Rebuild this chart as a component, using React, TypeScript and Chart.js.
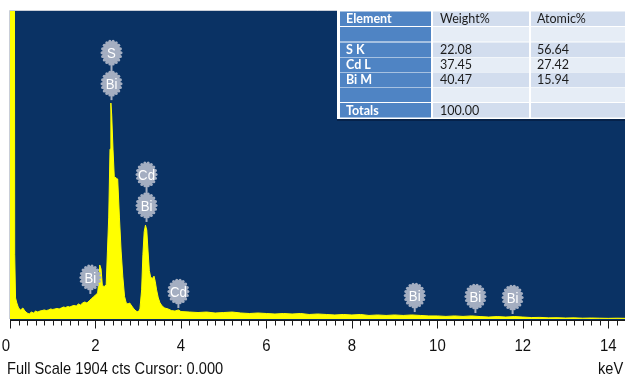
import { useEffect, useRef } from "react";
import { Chart, registerables } from "chart.js";

Chart.register(...registerables);

// EDS spectrum: energy (keV) and counts per channel
const energies = [
  0.0, 0.09, 0.11, 0.13, 0.16, 0.2, 0.25, 0.3, 0.35, 0.4, 0.45, 0.5, 0.55, 0.6, 0.65, 0.7, 0.75, 0.8,
  0.85, 0.9, 0.95, 1.0, 1.05, 1.1, 1.15, 1.2, 1.25, 1.3, 1.35, 1.4, 1.45, 1.5, 1.55, 1.6, 1.65, 1.7,
  1.75, 1.8, 1.85, 1.9, 1.95, 2.0, 2.05, 2.08, 2.1, 2.13, 2.16, 2.2, 2.25, 2.28, 2.31, 2.34, 2.36,
  2.38, 2.41, 2.44, 2.49, 2.52, 2.56, 2.6, 2.64, 2.68, 2.72, 2.76, 2.8, 2.85, 2.9, 2.95, 3.0, 3.04,
  3.08, 3.11, 3.14, 3.17, 3.2, 3.23, 3.26, 3.29, 3.33, 3.37, 3.4, 3.43, 3.47, 3.51, 3.56, 3.62, 3.7,
  3.78, 3.86, 3.94, 4.0, 4.2, 4.4, 4.6, 4.8, 5.0, 5.2, 5.4, 5.6, 5.8, 6.0, 6.2, 6.4, 6.6, 6.8, 7.0,
  7.2, 7.4, 7.6, 7.8, 8.0, 8.2, 8.4, 8.6, 8.8, 9.0, 9.2, 9.4, 9.6, 9.8, 10.0, 10.2, 10.4, 10.6, 10.8,
  11.0, 11.2, 11.4, 11.6, 11.8, 12.0, 12.2, 12.4, 12.6, 12.8, 13.0, 13.2, 13.4, 13.6, 13.8, 14.0,
  14.2, 14.4,
];
const counts = [
  6000, 6000, 400, 130, 99, 68, 56, 68, 49, 37, 31, 43, 37, 49, 43, 49, 52, 56,
  52, 56, 62, 59, 62, 65, 62, 68, 74, 71, 77, 74, 80, 84, 80, 93, 87, 99,
  105, 99, 111, 124, 136, 148, 160, 235, 334, 310, 210, 200, 210, 420, 630, 1050, 1335,
  1260, 1050, 880, 870, 865, 630, 420, 260, 140, 99, 93, 99, 80, 62, 49, 43, 62,
  180, 400, 540, 580, 550, 420, 300, 260, 250, 265, 230, 180, 130, 100, 80, 68, 62,
  52, 49, 56, 46, 43, 40, 43, 37, 40, 43, 37, 34, 37, 34, 31, 34, 31, 34, 28,
  31, 28, 25, 28, 25, 28, 22, 25, 22, 25, 22, 25, 22, 19, 19, 16, 19, 16, 19,
  15, 12, 15, 12, 15, 12, 9, 10, 7, 8, 6, 7, 5, 6, 5, 4,
  5, 4,
];

const fullScaleCounts = 1904;
const energyMax = 14.39;
const majorTicks = [0, 2, 4, 6, 8, 10, 12, 14];
const minorStep = 0.2;
const footerText = "Full Scale 1904 cts Cursor: 0.000";
const unitText = "keV";

// Peak identification markers: stacked labels (bottom first), energy and foot height in counts
const markerLabels = [["Bi", "S"], ["Bi", "Cd"], ["Bi"], ["Cd"], ["Bi"], ["Bi"], ["Bi"]];
const markerEnergies = [2.375, 3.195, 1.88, 3.94, 9.47, 10.89, 11.76];
const markerFeet = [1353, 600, 155, 68, 43, 37, 31];

// Quantification table
const tableHeader = ["Element", "Weight%", "Atomic%"];
const tableElements = ["", "S K", "Cd L", "Bi M", "", "Totals"];
const tableWeight = ["", "22.08", "37.45", "40.47", "", "100.00"];
const tableAtomic = ["", "56.64", "27.42", "15.94", "", ""];

const NAVY = "#0a3264";
const YELLOW = "#ffff00";
const BADGE = "#a4aec1";

function drawBadge(ctx: CanvasRenderingContext2D, cx: number, cy: number, text: string) {
  const rx = 9.5;
  const ry = 11.5;
  ctx.fillStyle = BADGE;
  const n = 18;
  for (let k = 0; k < n; k++) {
    const a = (k / n) * Math.PI * 2;
    ctx.beginPath();
    ctx.arc(cx + Math.cos(a) * rx, cy + Math.sin(a) * ry, 1.5, 0, Math.PI * 2);
    ctx.fill();
  }
  ctx.beginPath();
  ctx.ellipse(cx, cy, rx, ry, 0, 0, Math.PI * 2);
  ctx.fill();
  ctx.save();
  ctx.translate(cx, cy + 1);
  ctx.scale(0.88, 1);
  ctx.font = "15px 'Liberation Sans'";
  ctx.textAlign = "center";
  ctx.textBaseline = "middle";
  ctx.fillStyle = "#ffffff";
  ctx.fillText(text, 0, 0);
  ctx.restore();
}

function drawCondensed(
  ctx: CanvasRenderingContext2D,
  text: string,
  x: number,
  y: number,
  align: CanvasTextAlign,
  size: number,
  squeeze: number
) {
  ctx.save();
  ctx.translate(x, y);
  ctx.scale(squeeze, 1);
  ctx.font = `${size}px 'Liberation Sans'`;
  ctx.textAlign = align;
  ctx.textBaseline = "alphabetic";
  ctx.fillStyle = "#111111";
  ctx.fillText(text, 0, 0);
  ctx.restore();
}

const spectrumDecor = {
  id: "spectrumDecor",
  beforeDraw(chart: any) {
    const { ctx, chartArea, width, height } = chart;
    ctx.save();
    ctx.fillStyle = "#ffffff";
    ctx.fillRect(0, 0, width, height);
    ctx.fillStyle = NAVY;
    ctx.fillRect(chartArea.left, chartArea.top, chartArea.right - chartArea.left, chartArea.bottom - chartArea.top + 1);
    ctx.strokeStyle = "#c9ced8";
    ctx.lineWidth = 1;
    ctx.beginPath();
    ctx.moveTo(chartArea.left - 0.5, chartArea.bottom);
    ctx.lineTo(chartArea.left - 0.5, chartArea.top - 0.5);
    ctx.lineTo(chartArea.right, chartArea.top - 0.5);
    ctx.stroke();
    ctx.restore();
  },
  afterDatasetsDraw(chart: any) {
    const { ctx, chartArea } = chart;
    const xs = chart.scales.x;
    const ys = chart.scales.y;
    ctx.save();

    // peak markers
    markerLabels.forEach((labels, i) => {
      const cx = xs.getPixelForValue(markerEnergies[i]);
      const foot = ys.getPixelForValue(markerFeet[i]);
      const first = foot - 16.5;
      const topCenter = first - (labels.length - 1) * 31;
      ctx.strokeStyle = BADGE;
      ctx.lineWidth = 2;
      ctx.beginPath();
      ctx.moveTo(cx, foot);
      ctx.lineTo(cx, topCenter);
      ctx.stroke();
      labels.forEach((t, j) => drawBadge(ctx, cx, first - j * 31, t));
    });

    // energy axis
    const axisY = chartArea.bottom + 1.5;
    ctx.strokeStyle = "#1a1a1a";
    ctx.lineWidth = 1;
    ctx.beginPath();
    ctx.moveTo(chartArea.left, axisY);
    ctx.lineTo(chartArea.right, axisY);
    const nMinor = Math.floor(energyMax / minorStep + 1e-6);
    for (let k = 0; k <= nMinor; k++) {
      const v = k * minorStep;
      const px = Math.round(xs.getPixelForValue(v)) + 0.5;
      const isMajor = majorTicks.some((m) => Math.abs(m - v) < 1e-6);
      ctx.moveTo(px, axisY);
      ctx.lineTo(px, axisY + (isMajor ? 8 : 5));
    }
    ctx.stroke();

    majorTicks.forEach((m) => {
      const px = xs.getPixelForValue(m);
      if (m === 0) drawCondensed(ctx, String(m), px, axisY + 30, "right", 17, 0.88);
      else drawCondensed(ctx, String(m), px, axisY + 30, "center", 17, 0.88);
    });
    drawCondensed(ctx, footerText, 7, 374, "left", 17, 0.86);
    drawCondensed(ctx, unitText, 598, 374, "left", 17, 0.86);

    // quantification table
    const tx = 337;
    const ty = 9;
    ctx.fillStyle = "#ffffff";
    ctx.fillRect(tx, ty, 625 - tx, 110);
    ctx.fillStyle = "#06224a";
    ctx.fillRect(tx, ty + 110, 625 - tx, 2);
    const colX = [340, 433, 531];
    const colW = [91, 96, 100];
    const rowTop = [11.5, 27, 42.5, 57.5, 72.5, 87.5, 103];
    const rowH = 14.5;
    const textX = [346, 440, 537];
    const rows = [tableHeader].concat(
      tableElements.map((e, i) => [e, tableWeight[i], tableAtomic[i]])
    );
    rows.forEach((row, r) => {
      for (let c = 0; c < 3; c++) {
        ctx.fillStyle = c === 0 ? "#4f84c4" : r % 2 === 0 ? "#d2ddee" : "#e6edf6";
        ctx.fillRect(colX[c], rowTop[r], colW[c], rowH);
        const t = row[c];
        if (!t) continue;
        ctx.font = c === 0 ? "bold 12.5px Lato" : "12.5px Lato";
        ctx.fillStyle = c === 0 ? "#ffffff" : "#1c1c1c";
        ctx.textAlign = "left";
        ctx.textBaseline = "middle";
        ctx.fillText(t, textX[c], rowTop[r] + rowH / 2 + 0.5);
      }
    });
    ctx.restore();
  },
};

export default function App() {
  const canvasRef = useRef<HTMLCanvasElement | null>(null);

  useEffect(() => {
    const canvas = canvasRef.current;
    if (!canvas) return;
    const points = energies.map((e, i) => ({ x: e, y: counts[i] }));
    const chart = new Chart(canvas, {
      type: "line",
      data: {
        datasets: [
          {
            data: points,
            fill: "origin",
            backgroundColor: YELLOW,
            borderColor: YELLOW,
            borderWidth: 1,
            pointRadius: 0,
            tension: 0,
          },
        ],
      },
      options: {
        animation: false,
        responsive: false,
        maintainAspectRatio: false,
        devicePixelRatio: 1,
        layout: { padding: { left: 10, top: 11, right: 0, bottom: 60 } },
        scales: {
          x: { type: "linear", min: 0, max: energyMax, display: false },
          y: { type: "linear", min: 0, max: fullScaleCounts, display: false },
        },
        plugins: { legend: { display: false }, tooltip: { enabled: false } },
      },
      plugins: [spectrumDecor],
    } as any);
    return () => chart.destroy();
  }, []);

  return (
    <div style={{ position: "fixed", left: 0, top: 0, width: 625, height: 379, background: "#fff" }}>
      <canvas ref={canvasRef} width={625} height={379} style={{ display: "block" }} />
    </div>
  );
}
